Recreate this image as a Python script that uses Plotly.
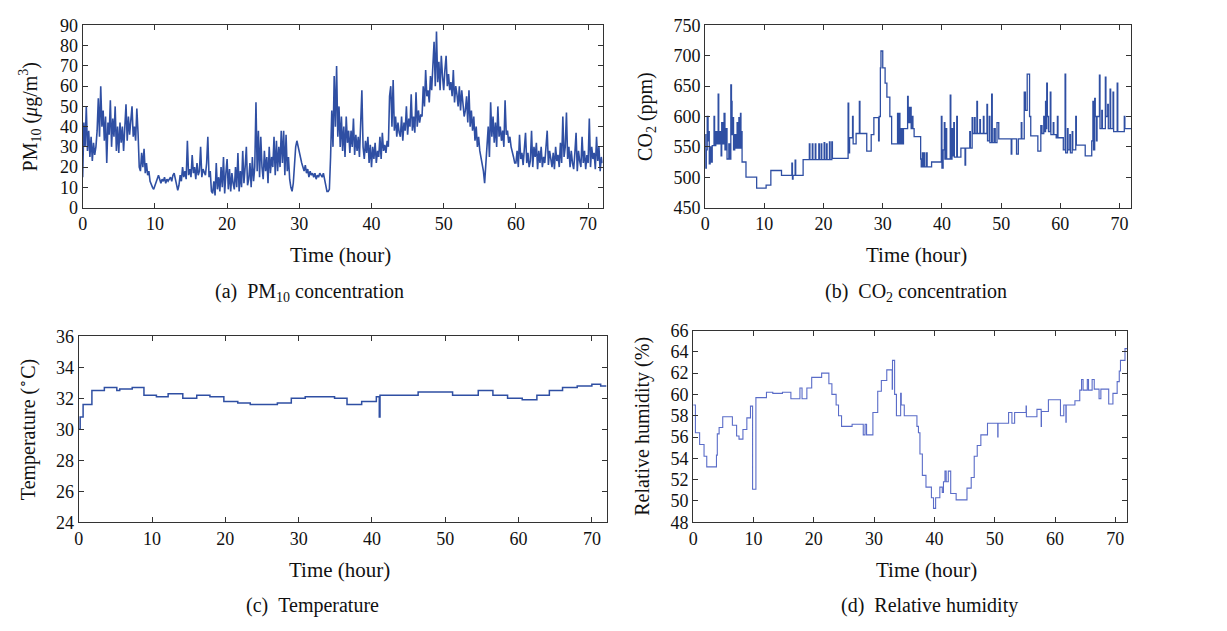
import plotly.graph_objects as go

# ---------------- data ----------------
# PM10: 6 samples per hour, 0..72 h
pm10_values = [
    15, 42, 30, 50, 28, 38,  25, 35, 23, 32, 26, 30,  38, 54, 35, 60, 40, 48,
    33, 45, 22, 42, 36, 53,  30, 44, 35, 50, 28, 40,  27, 42, 32, 40, 28, 38,
    51, 33, 45, 36, 42, 50,  35, 40, 33, 49, 37, 20,  18, 27, 20, 29, 17, 22,
    16, 18, 13, 11, 10, 9,   11, 13, 15, 16, 14, 12,  14, 13, 15, 12, 14, 13,
    14, 15, 13, 16, 17, 14,  10, 8.5, 11, 16, 13, 20, 15, 18, 14, 33, 16, 19,
    15, 26, 17, 20, 14, 22,  16, 18, 30, 15, 19, 17,  16, 22, 35, 15, 18, 8,
    7, 13, 6, 22, 9, 15,     8, 20, 10, 25, 7, 17,    24, 9, 19, 8, 17, 12,
    9, 20, 10, 27, 8, 18,    10, 28, 12, 20, 30, 11,  14, 22, 10, 25, 13, 20,
    52, 18, 38, 15, 35, 20,  14, 28, 18, 25, 12, 30,  17, 25, 20, 35, 16, 33,
    18, 30, 20, 38, 22, 38,  16, 36, 18, 25, 14, 10,  8, 12, 20, 30, 33, 30,
    28, 25, 22, 20, 18, 21,  17, 19, 15, 18, 16, 17,  15, 17, 14, 16, 15, 17,
    16, 15, 17, 14, 10, 8,   8, 9, 25, 48, 30, 65,    40, 70, 35, 50, 30, 45,
    28, 40, 25, 45, 32, 38,  27, 38, 30, 44, 26, 36,  28, 35, 25, 40, 58, 30,
    24, 33, 27, 35, 22, 31,  20, 30, 24, 32, 22, 28,  25, 35, 24, 37, 28, 31,
    27, 33, 30, 55, 60, 40,  63, 38, 45, 35, 42, 37,  35, 45, 33, 42, 38, 50,
    36, 44, 40, 56, 38, 45,  37, 57, 40, 48, 42, 46,  45, 60, 50, 68, 55, 58,
    52, 65, 58, 70, 82, 60,  87, 62, 72, 58, 75, 65,  58, 68, 75, 60, 66, 58,
    62, 55, 68, 52, 60, 56,  50, 60, 48, 58, 52, 45,  48, 55, 42, 58, 40, 48,
    38, 45, 33, 40, 30, 35,  28, 25, 22, 18, 12, 20,  30, 40, 25, 52, 35, 45,
    32, 42, 30, 50, 35, 40,  33, 38, 30, 53, 36, 38,  32, 35, 30, 28, 25, 22,
    22, 28, 20, 36, 24, 27,  21, 29, 37, 22, 27, 20,  23, 38, 20, 30, 25, 32,
    19, 28, 22, 30, 20, 25,  22, 30, 38, 21, 28, 24,  20, 27, 19, 30, 23, 26,
    20, 32, 22, 45, 25, 30,  47, 24, 30, 20, 28, 22,  19, 27, 37, 18, 28, 23,
    20, 35, 22, 28, 19, 26,  22, 44, 20, 30, 24, 27,  19, 35, 23, 30, 18, 25,
    22,
]
pm10_time = [i / 6 for i in range(len(pm10_values))]

co2_time = [0.0, 0.1, 0.2, 0.35, 0.5, 0.6, 0.7, 0.85, 1.0, 1.2, 1.5, 1.6, 1.8, 2.0, 2.2, 2.3, 2.5, 2.7, 2.8, 3.0,
            3.2, 3.35, 3.5, 3.7, 4.0, 4.2, 4.34, 4.45, 4.55, 4.65, 4.8, 5.0, 5.2, 5.4, 5.5, 5.7, 5.8, 5.97, 6.05, 6.15,
            6.24, 6.9, 8.7, 10.3, 11.1, 12.9, 14.65, 14.75, 14.85, 15.2, 15.3, 16.55, 17.6, 17.7, 18.1, 18.2, 18.6, 18.7,
            19.2, 19.3, 19.6, 19.7, 20.1, 20.2, 20.5, 20.6, 21.0, 21.1, 21.4, 21.5, 24.15, 24.25, 24.4, 24.9, 25.0, 25.5,
            26.05, 26.15, 27.3, 28.05, 28.5, 29.3, 29.4, 29.6, 29.7, 30.0, 30.4, 30.7, 31.2, 31.5, 32.5, 32.6, 32.8, 32.9,
            33.1, 33.3, 33.5, 33.6, 34.2, 34.3, 34.5, 34.6, 34.7, 34.8, 35.0, 35.1, 35.3, 36.4, 36.5, 36.7, 36.8, 37.0,
            37.1, 37.4, 37.5, 38.25, 39.9, 40.0, 40.2, 40.4, 40.5, 40.7, 40.8, 41.4, 41.5, 41.7, 41.8, 42.0, 42.1, 42.5,
            42.6, 43.2, 43.9, 44.0, 44.7, 44.8, 45.1, 45.2, 45.5, 45.6, 45.9, 46.0, 46.4, 46.5, 47.0, 47.1, 47.6, 47.7,
            48.0, 48.1, 48.4, 48.5, 48.8, 49.0, 49.3, 49.6, 51.7, 51.8, 52.6, 52.9, 53.4, 53.5, 53.9, 54.1, 54.4, 54.8,
            55.0, 56.2, 56.7, 56.9, 57.2, 57.3, 57.5, 57.6, 57.7, 57.8, 58.0, 58.3, 58.4, 58.8, 58.9, 59.3, 59.5, 59.6,
            60.5, 60.8, 60.9, 61.2, 61.3, 61.6, 61.7, 62.0, 62.1, 62.6, 62.7, 64.2, 65.3, 65.5, 65.6, 65.8, 65.9, 66.1,
            66.2, 66.6, 66.7, 67.0, 67.1, 67.6, 67.7, 68.0, 68.1, 68.4, 68.5, 68.9, 69.0, 69.6, 69.7, 70.8, 70.9, 72.0]
co2_values = [570, 515, 545, 600, 560, 575, 522, 550, 525, 552, 600, 552, 575, 555, 637, 555, 575, 535, 590, 555,
              605, 545, 580, 530, 555, 530, 652, 625, 570, 598, 545, 570, 548, 590, 548, 598, 548, 605, 548, 575,
              525, 500, 482, 487, 511, 503, 523, 497, 503, 528, 503, 529, 555, 529, 555, 529, 555, 529,
              555, 529, 555, 529, 557, 529, 555, 529, 558, 529, 558, 531, 622, 540, 565, 600, 555, 572,
              625, 572, 543, 570, 598, 560, 600, 680, 708, 680, 655, 632, 600, 555, 605, 555, 605, 555,
              580, 555, 580, 580, 633, 590, 615, 590, 615, 580, 600, 580, 567, 530, 517, 540, 517, 540,
              517, 540, 517, 525, 600, 515, 545, 590, 530, 580, 530, 635, 530, 580, 535, 590, 533, 600,
              533, 548, 520, 548, 575, 548, 598, 572, 598, 572, 625, 572, 595, 572, 600, 572, 620, 560,
              600, 557, 637, 557, 580, 557, 590, 563, 538, 563, 538, 563, 590, 563, 640, 610, 670, 600,
              568, 543, 585, 572, 600, 575, 625, 580, 655, 600, 575, 640, 570, 590, 570, 565, 600, 565,
              545, 670, 540, 580, 545, 570, 540, 575, 545, 600, 553, 535, 560, 625, 545, 630, 600, 560,
              600, 668, 580, 610, 580, 665, 600, 620, 580, 645, 580, 640, 575, 655, 575, 600, 580, 580]

temp_time = [0, 0.2, 0.6, 1.8, 3.5, 5.2, 5.6, 7.3, 8.9, 10.6, 12.2, 14.2, 16.1, 17.9, 19.8, 21.7, 23.4, 27.1, 29.0,
             30.9, 34.9, 36.6, 38.6, 40.6, 41.0, 41.1, 46.3, 51.0, 54.5, 56.5, 58.5, 60.5, 62.5, 64.2, 66.0, 68.0,
             70.0, 71.2, 72]
temp_values = [30.0, 30.8, 31.6, 32.5, 32.7, 32.5, 32.6, 32.7, 32.2, 32.1, 32.3, 32.0, 32.2, 32.1, 31.8, 31.7, 31.6,
               31.7, 32.0, 32.1, 32.0, 31.6, 31.8, 32.1, 30.8, 32.2, 32.4, 32.2, 32.5, 32.2, 32.0, 31.9, 32.2, 32.5,
               32.7, 32.8, 32.9, 32.8, 32.8]

rh_time = [0, 0.37, 1.07, 1.8, 2.25, 3.86, 4.0, 4.3, 4.9, 6.5, 7.2, 7.6, 8.25, 8.9, 9.5, 9.85, 10.4, 12.15, 13.2,
           14.8, 16.2, 17.7, 18.05, 18.85, 19.65, 21.3, 22.5, 23.0, 23.7, 24.1, 24.6, 26.35, 28.2, 28.5, 28.75, 29.8,
           30.6, 31.2, 32.1, 33.0, 33.05, 33.4, 33.7, 34.4, 34.5, 35.0, 37.1, 37.35, 37.6, 38.0, 38.6, 39.5, 39.85,
           40.2, 40.9, 41.3, 41.5, 41.75, 41.95, 42.3, 42.7, 43.6, 45.4, 46.1, 46.6, 47.1, 47.7, 48.8, 50.5, 50.55,
           52.3, 52.85, 53.3, 55.2, 55.25, 57.0, 57.7, 57.75, 58.9, 60.9, 61.45, 61.8, 61.85, 63.3, 64.1, 64.4,
           64.65, 65.35, 65.55, 66.15, 66.5, 67.3, 67.6, 68.9, 69.6, 70.3, 70.65, 70.85, 71.6, 72]
rh_values = [59.0, 56.4, 55.3, 54.2, 53.2, 54.3, 56.3, 56.9, 57.9, 57.1, 56.1, 55.8, 56.7, 57.8, 58.9, 51.1, 59.7,
             60.2, 60.1, 60.2, 59.6, 60.6, 59.6, 60.6, 61.6, 62.0, 61.0, 60.0, 59.0, 58.0, 57.0, 57.2, 56.2, 57.2,
             56.2, 58.3, 60.3, 61.3, 62.3, 60.5, 63.2, 60.0, 58.0, 60.1, 59.0, 58.0, 57.0, 56.4, 54.4, 52.4, 51.3,
             50.3, 49.3, 50.3, 51.3, 50.8, 51.8, 52.8, 51.8, 52.8, 50.7, 50.1, 51.2, 52.2, 54.2, 55.2, 56.2, 57.3,
             56.0, 57.3, 58.3, 57.3, 58.3, 58.9, 57.9, 58.6, 57.0, 58.4, 59.5, 58.0, 59.0, 57.4, 59.0, 59.4, 60.4,
             61.4, 60.4, 61.4, 60.4, 61.4, 60.5, 59.6, 60.5, 59.1, 60.1, 61.2, 62.2, 63.2, 64.3, 64.3]

x_ticks = [0, 10, 20, 30, 40, 50, 60, 70]
captions = ["(a)&#8194;PM<sub>10</sub> concentration", "(b)&#8194;CO<sub>2</sub> concentration",
            "(c)&#8194;Temperature", "(d)&#8194;Relative humidity"]
y_titles = ["PM<sub>10</sub> (<i>μ</i>g/m<sup>3</sup>)", "CO<sub>2</sub> (ppm)",
            "Temperature (<sup>∘</sup>C)", "Relative humidity (%)"]

# ---------------- figure ----------------
W, H = 1227, 631
FONT = "Liberation Serif, Times New Roman, serif"
BLUE = "#2f4fa3"


def px(x):
    return x / W


def py(y):
    return 1 - y / H


fig = go.Figure()
fig.add_trace(go.Scatter(x=pm10_time, y=pm10_values, mode="lines",
                         line=dict(color=BLUE, width=1.6), xaxis="x", yaxis="y"))
fig.add_trace(go.Scatter(x=co2_time, y=co2_values, mode="lines", line_shape="hv",
                         line=dict(color=BLUE, width=1.3), xaxis="x2", yaxis="y2"))
fig.add_trace(go.Scatter(x=temp_time, y=temp_values, mode="lines", line_shape="hv",
                         line=dict(color=BLUE, width=1.5), xaxis="x3", yaxis="y3"))
fig.add_trace(go.Scatter(x=rh_time, y=rh_values, mode="lines", line_shape="hv",
                         line=dict(color="#5a6cc8", width=1.1), xaxis="x4", yaxis="y4"))

# pixel boxes in the reference: (left, right, top, bottom)
boxes = [(78, 600, 16, 204), (703, 1131, 16, 204), (74, 604, 337, 529), (691, 1127, 331, 529)]
yranges = [(0, 90, 10), (450, 750, 50), (24, 36, 2), (48, 66, 2)]
xtitle_pos = [(337, 253), (915, 253), (336, 578), (925, 578)]
caption_pos = [(306, 292), (915, 292), (309, 615), (928, 615)]
ytitle_pos = [(25, 110), (644, 110), (22, 433), (640, 430)]

axcommon = dict(showline=True, linecolor="#333", linewidth=1, mirror="ticks", ticks="inside",
                ticklen=5, tickcolor="#333", showgrid=False, zeroline=False,
                tickfont=dict(family=FONT, size=18, color="#111"))

layout = dict(width=W, height=H, margin=dict(l=0, r=0, t=0, b=0),
              paper_bgcolor="white", plot_bgcolor="white", showlegend=False)
annotations = []
for i, ((l, r, t, b), (y0, y1, dy)) in enumerate(zip(boxes, yranges)):
    sfx = "" if i == 0 else str(i + 1)
    layout["xaxis" + sfx] = dict(axcommon, domain=[px(l), px(r)], range=[0, 72], tickvals=x_ticks,
                                 anchor="y" + sfx)
    layout["yaxis" + sfx] = dict(axcommon, domain=[py(b), py(t)], range=[y0, y1], dtick=dy,
                                 tick0=y0, anchor="x" + sfx)
    annotations.append(dict(text="Time (hour)", x=px(xtitle_pos[i][0]), y=py(xtitle_pos[i][1]),
                            xref="paper", yref="paper", xanchor="center", yanchor="middle",
                            showarrow=False, font=dict(family=FONT, size=21, color="#111")))
    annotations.append(dict(text=captions[i], x=px(caption_pos[i][0]), y=py(caption_pos[i][1]),
                            xref="paper", yref="paper", xanchor="center", yanchor="middle",
                            showarrow=False, font=dict(family=FONT, size=20, color="#111")))
    annotations.append(dict(text=y_titles[i], x=px(ytitle_pos[i][0]), y=py(ytitle_pos[i][1]),
                            xref="paper", yref="paper", xanchor="center", yanchor="middle",
                            showarrow=False, textangle=-90,
                            font=dict(family=FONT, size=20, color="#111")))
layout["annotations"] = annotations
fig.update_layout(**layout)

# remove the browser's default page margin so the figure sits at the window origin
fig.write_html("out.html", config={"displayModeBar": False},
               post_script="document.body.style.margin='0';document.body.style.overflow='hidden';")
